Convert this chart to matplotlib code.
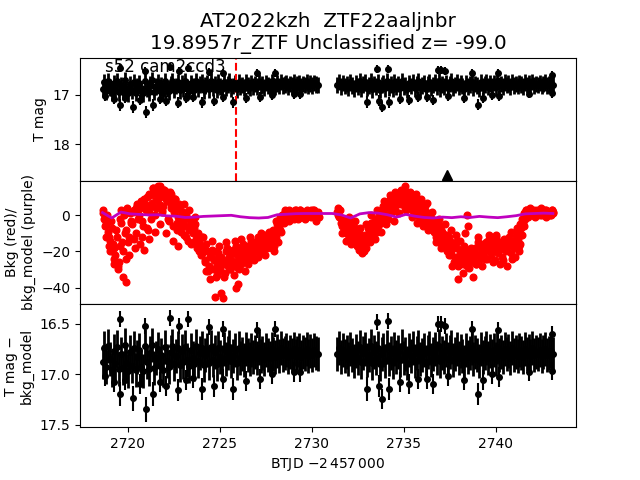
import numpy as np
import matplotlib
matplotlib.use('Agg')
import matplotlib.pyplot as plt

# 时间起点与采样间隔 (BTJD - 2457000)
seg1_start = 2718.62
seg2_start = 2731.40
cadence = 0.1

# T mag 主体 (两段)
mag_seg1 = [16.88, 16.74, 16.93, 16.72, 16.85, 16.96, 16.77, 16.90, 16.73, 16.95,
            16.80, 16.94, 16.71, 16.89, 16.97, 16.78, 16.92, 16.74, 16.96, 16.83,
            16.76, 16.93, 16.97, 16.72, 16.88, 16.95, 16.79, 16.71, 16.94, 16.84,
            16.75, 16.92, 16.81, 16.96, 16.73, 16.87, 16.93, 16.78, 16.72, 16.90,
            16.82, 16.74, 16.91, 16.77, 16.88, 16.73, 16.86, 16.92, 16.76, 16.84,
            16.90, 16.72, 16.87, 16.79, 16.74, 16.91, 16.81, 16.76, 16.89, 16.73,
            16.86, 16.78, 16.90, 16.74, 16.83, 16.88, 16.75, 16.85, 16.79, 16.73,
            16.87, 16.82, 16.76, 16.89, 16.74, 16.84, 16.80, 16.86, 16.75, 16.81,
            16.85, 16.76, 16.83, 16.78, 16.84, 16.74, 16.82, 16.79, 16.85, 16.76,
            16.81, 16.84, 16.75, 16.80, 16.83, 16.77, 16.82, 16.74, 16.81, 16.79,
            16.76, 16.83, 16.78, 16.81, 16.75, 16.82, 16.79, 16.76, 16.83, 16.78,
            16.80, 16.75, 16.82, 16.77, 16.81, 16.76, 16.79, 16.80]
mag_seg2 = [16.80, 16.74, 16.83, 16.76, 16.82, 16.78, 16.85, 16.75, 16.81, 16.87,
            16.77, 16.84, 16.73, 16.88, 16.79, 16.75, 16.86, 16.81, 16.72, 16.89,
            16.78, 16.84, 16.74, 16.90, 16.80, 16.76, 16.87, 16.73, 16.85, 16.79,
            16.88, 16.75, 16.83, 16.78, 16.86, 16.72, 16.84, 16.80, 16.89, 16.76,
            16.82, 16.74, 16.87, 16.79, 16.73, 16.85, 16.81, 16.76, 16.88, 16.78,
            16.74, 16.86, 16.80, 16.75, 16.84, 16.72, 16.87, 16.79, 16.83, 16.76,
            16.85, 16.78, 16.73, 16.86, 16.80, 16.75, 16.84, 16.77, 16.82, 16.88,
            16.76, 16.83, 16.79, 16.74, 16.85, 16.78, 16.81, 16.87, 16.75, 16.83,
            16.79, 16.74, 16.84, 16.77, 16.82, 16.76, 16.85, 16.73, 16.81, 16.78,
            16.83, 16.75, 16.80, 16.77, 16.84, 16.74, 16.81, 16.78, 16.82, 16.76,
            16.79, 16.83, 16.75, 16.80, 16.77, 16.82, 16.74, 16.81, 16.78, 16.80,
            16.76, 16.82, 16.78, 16.75, 16.81, 16.79, 16.77, 16.80]
mag_err = 0.17

# 偏离较大的点 (时间, 星等, 误差)
spike_t = [2718.75, 2719.25, 2719.55, 2719.85, 2720.30, 2720.65, 2721.00, 2721.35,
           2721.75, 2722.05, 2722.70, 2723.15, 2723.55, 2724.05, 2724.70, 2725.15,
           2725.70, 2726.40, 2727.20, 2727.85, 2729.05, 2729.35,
           2719.55, 2720.95, 2722.30, 2722.80, 2723.25, 2724.40, 2725.20, 2727.00,
           2728.00,
           2733.00, 2733.65, 2733.80, 2734.20, 2734.80, 2735.30, 2735.80, 2736.25,
           2736.60, 2737.40, 2738.30, 2739.07, 2739.30, 2739.80, 2740.20, 2741.80,
           2743.05,
           2733.55, 2734.15, 2736.85, 2737.05, 2737.25, 2738.70, 2740.15, 2743.05]
spike_mag = [17.02, 17.08, 17.20, 17.06, 17.24, 17.10, 17.35, 17.20,
             17.08, 17.12, 17.16, 17.06, 17.04, 17.15, 17.12, 17.05,
             17.15, 17.07, 17.05, 17.00, 16.98, 16.98,
             16.45, 16.52, 16.44, 16.52, 16.45, 16.53, 16.55, 16.56,
             16.55,
             17.15, 17.12, 17.25, 17.15, 17.08, 17.10, 17.05, 17.05,
             17.10, 17.02, 17.06, 17.20, 17.06, 17.00, 17.03, 16.98,
             16.97,
             16.48, 16.47, 16.50, 16.50, 16.52, 16.55, 16.56, 16.60]
spike_err = [0.10, 0.10, 0.12, 0.10, 0.12, 0.10, 0.12, 0.12,
             0.10, 0.10, 0.11, 0.10, 0.10, 0.11, 0.11, 0.10,
             0.11, 0.10, 0.10, 0.10, 0.10, 0.10,
             0.08, 0.08, 0.08, 0.08, 0.08, 0.08, 0.08, 0.08,
             0.08,
             0.12, 0.11, 0.10, 0.11, 0.10, 0.10, 0.10, 0.10,
             0.10, 0.10, 0.10, 0.11, 0.10, 0.10, 0.10, 0.09,
             0.09,
             0.08, 0.08, 0.08, 0.08, 0.08, 0.08, 0.08, 0.08]

# 背景 (红点), 两组交错采样
bkg_seg1 = [1, -2, -5, -9, -14, -7, -18, -22, -12, -26,
            -4, -20, 2, -8, -15, 1, -5, 3, -10, 5,
            0, 8, -6, 6, 10, 2, 11, 7, 13, 9,
            14, 10, 12, 5, 11, 8, 10, 4, 7, 2,
            5, -1, 3, -3, 1, -6, -2, -8, -4, -10,
            -7, -13, -10, -17, -21, -18, -25, -20, -28, -22,
            -30, -24, -27, -21, -29, -24, -26, -20, -28, -23,
            -25, -19, -26, -22, -24, -18, -23, -20, -22, -17,
            -21, -16, -19, -15, -18, -14, -17, -13, -16, -12,
            -15, -11, -13, -8, -10, -5, -6, -2, -3, 0,
            1, 2, 0, 2, 1, 3, 0, 2, -1, 2,
            1, 3, 0, 2, 1, 3, 0, 2]
bkg_seg1b = [3, -6, 0, -12, -3, -16, -24, -8, -28, -2,
             -15, 0, -24, 4, -12, -3, 2, -18, 6, -2,
             4, -12, 9, 3, -8, 12, 5, 15, 0, 12,
             6, 16, 2, 14, 9, -2, 13, 6, -6, 9,
             -4, 6, -9, 2, -11, 0, -14, -6, -3, -15,
             -5, -18, -14, -22, -12, -26, -16, -31, -23, -19,
             -25, -34, -20, -31, -23, -27, -32, -18, -25, -30,
             -21, -28, -17, -29, -20, -27, -16, -25, -18, -24,
             -14, -23, -18, -20, -12, -21, -16, -19, -11, -18,
             -13, -16, -9, -17, -12, -4, -8, 0, -4, 2,
             -1, 3, 1, -1, 3, 1, -2, 3, 0, 1,
             -1, 2, 1, -1, 3, 0, 1, -1]
bkg_seg2 = [2, -1, -4, -2, -7, -5, -9, -6, -11, -8,
            -13, -10, -15, -12, -17, -11, -14, -8, -10, -5,
            -8, -3, -6, -1, 2, -2, 4, 1, 6, 3,
            8, 5, 9, 6, 10, 7, 11, 8, 10, 6,
            9, 5, 8, 4, 6, 2, 4, 0, 2, -2,
            0, -4, -6, -3, -9, -6, -12, -9, -14, -11,
            -17, -14, -20, -16, -23, -18, -25, -20, -22, -17,
            -24, -19, -26, -21, -23, -18, -22, -17, -21, -16,
            -20, -15, -19, -16, -20, -15, -18, -14, -19, -15,
            -18, -14, -17, -13, -17, -14, -16, -12, -13, -9,
            -7, -4, -2, 0, 1, 2, 1, 3, 1, 2,
            0, 2, 1, 3, 1, 2, 0, 2]
bkg_seg2b = [0, 3, -6, -3, -10, -2, -12, -4, -14, -7,
             -17, -9, -19, -14, -13, -18, -7, -12, -4, -11,
             -2, -9, 0, -4, 5, 0, 7, -2, 9, 2,
             11, 3, 12, 8, 6, 12, 4, 13, 7, 11,
             3, 11, 1, 9, -1, 7, -3, 5, -5, 1,
             -7, -2, -9, -12, -5, -15, -8, -17, -11, -20,
             -12, -22, -18, -26, -15, -28, -21, -24, -27, -20,
             -28, -22, -18, -25, -20, -27, -15, -24, -19, -23,
             -17, -24, -13, -22, -18, -25, -12, -21, -17, -23,
             -13, -20, -16, -12, -21, -15, -18, -10, -17, -5,
             -2, 1, 3, -1, 2, 3, 0, 2, 3, 1,
             3, 0, 2, 3, 1, 0, 3, 1]
bkg_offset = 0.05

# 背景散点
bkg_extra_t = [2718.8, 2718.95, 2719.05, 2719.25, 2719.45, 2719.55, 2719.75, 2719.9,
               2719.65, 2719.85, 2720.05, 2720.15, 2720.35, 2720.45, 2720.65, 2720.75,
               2720.85, 2721.05, 2721.15, 2721.25, 2721.35, 2721.45, 2721.55, 2721.65,
               2721.75, 2721.85, 2721.95, 2722.05, 2722.15, 2722.25, 2722.35, 2722.45,
               2722.55, 2722.65, 2722.75, 2722.95, 2723.05, 2723.15, 2723.35, 2723.45,
               2723.65, 2723.85, 2724.05, 2724.25, 2724.45, 2724.55, 2724.75, 2724.85,
               2724.95, 2725.05, 2725.15, 2725.25, 2725.35, 2725.55, 2725.75, 2725.85,
               2725.9, 2726.0, 2726.05, 2726.15, 2726.35, 2726.55, 2726.65, 2726.85,
               2727.05, 2727.25, 2727.45, 2727.65, 2727.85, 2727.95, 2728.05, 2728.15,
               2728.25, 2728.35, 2728.55, 2728.75, 2729.05, 2729.35, 2729.65, 2729.95,
               2730.25,
               2731.45, 2731.65, 2731.85, 2732.05, 2732.15, 2732.35, 2732.55, 2732.65,
               2732.75, 2732.85, 2732.95, 2733.15, 2733.25, 2733.45, 2733.55, 2733.75,
               2733.95, 2734.05, 2734.25, 2734.45, 2734.55, 2734.75, 2734.85, 2735.05,
               2735.1, 2735.15, 2735.35, 2735.45, 2735.65, 2735.75, 2735.95, 2736.05,
               2736.25, 2736.35, 2736.55, 2736.75, 2736.95, 2737.05, 2737.25, 2737.45,
               2737.55, 2737.65, 2737.85, 2737.95, 2738.05, 2738.25, 2738.35, 2738.45,
               2738.5, 2738.55, 2738.75, 2738.95, 2739.05, 2739.25, 2739.45, 2739.65,
               2739.85, 2740.05, 2740.25, 2740.4, 2740.65, 2740.85, 2740.9, 2741.05,
               2741.15, 2741.25, 2741.35, 2741.45, 2741.55, 2741.65, 2741.85, 2742.15,
               2742.45, 2742.75, 2743.05]
bkg_extra_v = [-12, -17, -20, -27, -30, -17, -34, -37,
               3, -10, -22, -4, -13, 4, -16, -3,
               -19, -7, -13, -2, 15, -9, 4, 16,
               -5, 3, 14, -10, 13, -3, 12, -14,
               9, -8, -17, -6, 6, -12, 3, -16,
               -1, -20, -12, -31, -35, -14, -45, -33,
               -17, -43, -46, -34, -15, -30, -33, -14,
               -40, -38, -30, -13, -31, -27, -12, -25,
               -23, -10, -22, -9, -18, -20, -3, -15,
               -1, -9, 3, -3, -2, 3, -2, 3,
               -3,
               4, -10, -14, -1, -16, -3, -19, -7,
               -21, -20, -5, -15, 0, -13, 3, -9,
               8, -5, 11, -3, 13, 1, 14, 16,
               12, 3, 13, -1, 12, -4, 9, -6,
               7, -8, 2, -15, -2, -18, -5, -22,
               -8, -28, -11, -35, -14, -32, -10, 0,
               -6, -29, -34, -27, -12, -28, -24, -11,
               -26, -11, -27, -25, -28, -9, -24, -23,
               -7, -20, -16, -11, -6, 3, 4, -1,
               4, -1, 3]

# bkg_model (紫线), 每 0.5 天
model_start = 2718.62
model_step = 0.5
bkg_model = [1.5, -1.5, 1.8, 0.8, 0.5, 0.2, 0.3, -0.3, -0.5, -1.2,
             -1.0, -0.6, -0.4, -0.2, 0.0, -0.8, -1.3, -1.5, -1.2, 0.3,
             0.6, 0.9, 1.0, 1.0, 1.0, 1.0, 0.2, -1.5, 0.8, 1.5,
             1.2, 0.3, -1.0, 0.5, -0.5, -1.2, -1.5, -1.0, -1.3, -0.8,
             -1.2, -0.6, -1.0, -1.3, -0.8, -0.2, 0.8, 1.0, 1.2, 1.0]

# ZTF 点
ztf_t = [2737.37]
ztf_mag = [18.63]

t_detect = 2725.88

title = 'AT2022kzh  ZTF22aaljnbr\n19.8957r_ZTF Unclassified z= -99.0'
sector_label = 's52 cam2ccd3'

# 组装时间轴
t1 = seg1_start + cadence * np.arange(len(mag_seg1))
t2 = seg2_start + cadence * np.arange(len(mag_seg2))
t = np.concatenate([t1, t2])
mag = np.concatenate([mag_seg1, mag_seg2])
bkg_t = np.concatenate([t, t + bkg_offset])
bkg = np.concatenate([bkg_seg1, bkg_seg2, bkg_seg1b, bkg_seg2b])
model_t = model_start + model_step * np.arange(len(bkg_model))

fig, (ax1, ax2, ax3) = plt.subplots(3, 1, sharex=True, figsize=(6.4, 4.8), dpi=100)
fig.subplots_adjust(hspace=0)

for ax in (ax1, ax3):
    ax.errorbar(t, mag, yerr=mag_err, fmt='o', color='k', ms=4, elinewidth=2)
    ax.errorbar(spike_t, spike_mag, yerr=spike_err, fmt='o', color='k', ms=4)
    ax.invert_yaxis()

ax1.plot(ztf_t, ztf_mag, '^', color='k', ms=7)
ax1.axvline(t_detect, color='r', ls='--')
ax1.set_ylabel('T mag')
ax1.set_title(title, fontsize='x-large')
ax1.text(0.05, 0.886, sector_label, transform=ax1.transAxes, fontsize=12)

ax2.plot(bkg_t, bkg, 'o', color='r', ms=4.8)
ax2.plot(bkg_extra_t, bkg_extra_v, 'o', color='r', ms=4.8)
ax2.plot(model_t, bkg_model, '-', color='m', lw=2)
ax2.set_ylabel('Bkg (red)/\nbkg_model (purple)')

ax3.set_ylabel('T mag \u2212\nbkg_model')
ax3.set_xlabel('BTJD $-2\\,457\\,000$')

for ax in (ax1, ax2):
    ax.tick_params(axis='x', bottom=False, labelbottom=False)

plt.savefig('out.png', dpi=100)
